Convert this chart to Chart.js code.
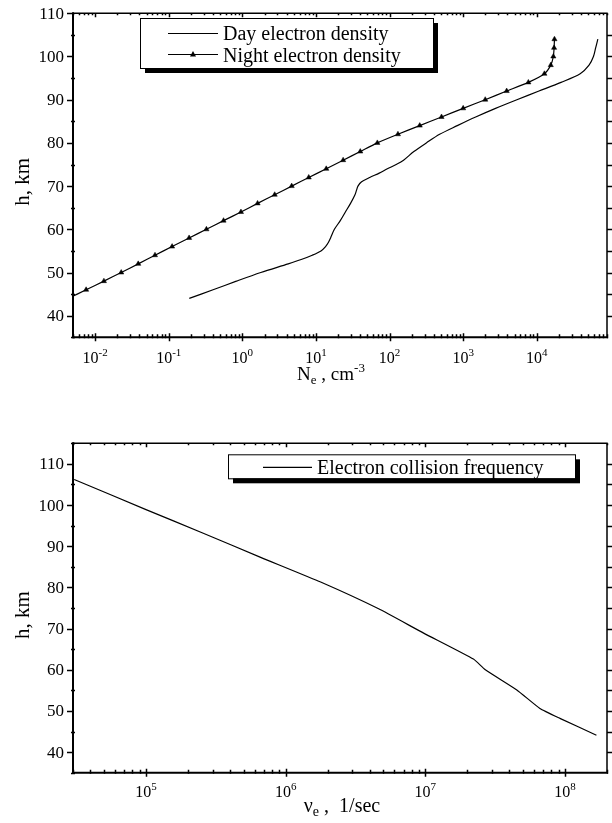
<!DOCTYPE html>
<html><head><meta charset="utf-8">
<script src="https://cdn.jsdelivr.net/npm/chart.js@4.4.1/dist/chart.umd.min.js"></script>
<style>
html,body{margin:0;padding:0;background:#fff;}
#wrap{position:relative;width:612px;height:823px;overflow:hidden;}
canvas{position:absolute;left:0;}
</style></head><body>
<div id="wrap">
<canvas id="c1" width="612" height="400" style="top:0;width:612px;height:400px"></canvas>
<canvas id="c2" width="612" height="423" style="top:400px;width:612px;height:423px"></canvas>
</div>
<script>
// ---------- DATA ----------
// Top chart: electron density profiles
const dayH  = [44,46,48,50,52,53,54,55,56,57,58,60,62,64,66,68,69,70,71,72,73,74,75,76,78,80,82,84,86,88,90,92,94,96,98,100,102,104];
const dayNe = [0.19,0.40,0.83,1.78,4.2,6.3,8.9,11.7,13.5,14.8,15.8,17.8,21.4,25.1,29.5,33.9,35.5,37.2,41.7,53.7,72.4,93.3,123,155,214,316,479,832,1479,2754,5370,10715,21380,38900,51300,58900,63100,67600];
const nightH  = [44,46,48,50,52,54,56,58,60,62,64,66,68,70,72,74,76,78,80,82,84,86,88,90,92,94,96,98,100,102,104];
const nightNe = [0.00432,0.00754,0.01315,0.0226,0.0385,0.0650,0.111,0.189,0.325,0.555,0.957,1.61,2.75,4.68,7.98,13.8,23.4,40.0,68.2,130,257,508,1000,1995,3900,7690,12700,15500,16800,17200,17400];
// Bottom chart: electron collision frequency
const nuH   = [44.1,48.2,50.6,55.1,60.0,62.6,68.9,74.8,81.3,87.3,93.4,98.9,106.2];
const nuVal = [1.68e8,9.2e7,6.62e7,4.52e7,2.69e7,2.21e7,9.73e6,4.63e6,1.78e6,6.62e5,2.47e5,1.0e5,3.06e4];
// Axis ticks / labels
const topYLabels = [40,50,60,70,80,90,100,110];
const topXExps = [-2,-1,0,1,2,3,4];
const botYLabels = [40,50,60,70,80,90,100,110];
const botXExps = [5,6,7,8];
const topLegend = ['Day electron density','Night electron density'];
const botLegend = ['Electron collision frequency'];

// ---------- HELPERS ----------
const SERIF = '"Liberation Serif","Times New Roman",serif';
function segSize(s,size){ return (s.sub||s.sup)?Math.round(size*0.68):size; }
function richWidth(ctx, segs, size){
  let w=0;
  for(const s of segs){ ctx.font=segSize(s,size)+'px '+SERIF; w+=ctx.measureText(s.t).width; }
  return w;
}
function drawRich(ctx, segs, cx, base, size){
  let x = cx - richWidth(ctx,segs,size)/2;
  ctx.textAlign='left'; ctx.textBaseline='alphabetic';
  for(const s of segs){
    ctx.font=segSize(s,size)+'px '+SERIF;
    let y=base; if(s.sup) y=base-size*0.42; if(s.sub) y=base+size*0.2;
    ctx.fillText(s.t,x,y); x+=ctx.measureText(s.t).width;
  }
}
function minorDecades(min,max){
  const out=[];
  for(let e=Math.floor(Math.log10(min)); e<=Math.ceil(Math.log10(max)); e++){
    for(let k=1;k<=9;k++){ const v=k*Math.pow(10,e); if(v>=min&&v<=max) out.push({v:v,major:k===1}); }
  }
  return out;
}

function axesPlugin(opt){
  return {
    id:'axesDraw',
    afterDraw(chart){
      const ctx=chart.ctx, a=chart.chartArea, xs=chart.scales.x, ys=chart.scales.y;
      ctx.save();
      ctx.strokeStyle='#000'; ctx.fillStyle='#000';
      // frame
      ctx.lineWidth=1.5;
      ctx.beginPath(); ctx.moveTo(a.left,a.top); ctx.lineTo(a.right,a.top); ctx.lineTo(a.right,a.bottom); ctx.stroke();
      ctx.lineWidth=2;
      ctx.beginPath(); ctx.moveTo(a.left,a.top-1); ctx.lineTo(a.left,a.bottom); ctx.lineTo(a.right+1,a.bottom); ctx.stroke();
      // y ticks
      ctx.lineWidth=1.5;
      for(let v=ys.min; v<=ys.max+0.001; v+=5){
        const py=Math.round(ys.getPixelForValue(v))+0.5;
        const major = opt.yLabels.includes(v);
        ctx.beginPath();
        if(major){ ctx.moveTo(a.left-6,py); ctx.lineTo(a.left,py); }
        else { ctx.moveTo(a.left-2,py); ctx.lineTo(a.left+2,py); }
        if(v>ys.min && v<ys.max){ ctx.moveTo(a.right,py); ctx.lineTo(a.right+5,py); }
        ctx.stroke();
      }
      // x ticks
      for(const t of minorDecades(xs.min,xs.max)){
        const px=Math.round(xs.getPixelForValue(t.v))+0.5;
        ctx.beginPath();
        if(t.major){ ctx.moveTo(px,a.bottom-4); ctx.lineTo(px,a.bottom+4); ctx.moveTo(px,a.top); ctx.lineTo(px,a.top+4); }
        else { ctx.moveTo(px,a.bottom-3); ctx.lineTo(px,a.bottom+1); ctx.moveTo(px,a.top); ctx.lineTo(px,a.top+2); }
        ctx.stroke();
      }
      // y labels
      ctx.font=opt.ySize+'px '+SERIF; ctx.textAlign='right'; ctx.textBaseline='middle';
      for(const v of opt.yLabels){ ctx.fillText(String(v), a.left-9, ys.getPixelForValue(v)+1); }
      // x labels
      for(const e of opt.xExps){
        const px=xs.getPixelForValue(Math.pow(10,e));
        drawRich(ctx,[{t:'10'},{t:String(e),sup:true}],px,opt.xBase,opt.xSize);
      }
      // axis titles
      drawRich(ctx,opt.xTitle,opt.xTitleX,opt.xTitleBase,opt.titleSize);
      ctx.save(); ctx.translate(opt.yTitleX,(a.top+a.bottom)/2+opt.yTitleDy); ctx.rotate(-Math.PI/2);
      drawRich(ctx,[{t:'h, km'}],0,0,opt.yTitleSize); ctx.restore();
      // legend
      const L=opt.legend;
      ctx.fillStyle='#000'; ctx.fillRect(L.x+5,L.y+5,L.w,L.h);
      ctx.fillStyle='#fff'; ctx.fillRect(L.x,L.y,L.w,L.h);
      ctx.lineWidth=1; ctx.strokeStyle='#000'; ctx.strokeRect(L.x+0.5,L.y+0.5,L.w,L.h);
      ctx.fillStyle='#000'; ctx.font=L.size+'px '+SERIF; ctx.textAlign='left'; ctx.textBaseline='alphabetic';
      L.items.forEach((it,i)=>{
        const ly=L.lineY[i];
        ctx.lineWidth=1.2; ctx.beginPath(); ctx.moveTo(L.lx0,ly); ctx.lineTo(L.lx1,ly); ctx.stroke();
        if(it.marker){ const mx=(L.lx0+L.lx1)/2; ctx.beginPath(); ctx.moveTo(mx,ly-3.5); ctx.lineTo(mx+3,ly+2); ctx.lineTo(mx-3,ly+2); ctx.closePath(); ctx.fill(); }
        ctx.fillText(it.text,L.tx,L.textBase[i]);
      });
      ctx.restore();
    }
  };
}

function baseScales(xmin,xmax,ymin,ymax,xh){
  return {
    x:{type:'logarithmic',min:xmin,max:xmax,ticks:{display:false},grid:{display:false},border:{display:false},afterFit(s){s.height=xh;}},
    y:{type:'linear',min:ymin,max:ymax,ticks:{display:false},grid:{display:false},border:{display:false},afterFit(s){s.width=73;}}
  };
}

// ---------- TOP CHART ----------
new Chart(document.getElementById('c1'),{
  type:'scatter',
  data:{datasets:[
    {label:topLegend[0],data:dayH.map((h,i)=>({x:dayNe[i],y:h})),showLine:true,borderColor:'#000',borderWidth:1.2,pointRadius:0,tension:0.3},
    {label:topLegend[1],data:nightH.map((h,i)=>({x:nightNe[i],y:h})),showLine:true,borderColor:'#000',backgroundColor:'#000',borderWidth:1.2,
     pointStyle:'triangle',pointRadius:nightH.map((h,i)=>i===0?0:3),pointBorderWidth:0.5,tension:0.2}
  ]},
  options:{responsive:false,animation:false,
    layout:{padding:{top:13.3,right:5,left:0,bottom:0}},
    plugins:{legend:{display:false},tooltip:{enabled:false}},
    scales:baseScales(0.005,9e4,35,110,62.7)},
  plugins:[axesPlugin({yLabels:topYLabels,xExps:topXExps,ySize:17,xSize:16,xBase:362.5,titleSize:19,yTitleSize:21,
    xTitle:[{t:'N'},{t:'e',sub:true},{t:' , cm'},{t:'-3',sup:true}],xTitleX:331,xTitleBase:380,yTitleX:28.5,yTitleDy:6.5,
    legend:{x:140,y:18,w:293,h:50,size:20,lx0:168,lx1:218,tx:223,lineY:[33.5,54.5],textBase:[40,62],
      items:[{text:topLegend[0]},{text:topLegend[1],marker:true}]}})]
});

// ---------- BOTTOM CHART ----------
new Chart(document.getElementById('c2'),{
  type:'scatter',
  data:{datasets:[
    {label:botLegend[0],data:nuH.map((h,i)=>({x:nuVal[i],y:h})),showLine:true,borderColor:'#000',borderWidth:1.2,pointRadius:0,tension:0.15}
  ]},
  options:{responsive:false,animation:false,
    layout:{padding:{top:43.3,right:5,left:0,bottom:0}},
    plugins:{legend:{display:false},tooltip:{enabled:false}},
    scales:baseScales(3e4,2e8,35,115,50.3)},
  plugins:[axesPlugin({yLabels:botYLabels,xExps:botXExps,ySize:17,xSize:16,xBase:396.5,titleSize:20,yTitleSize:21,
    xTitle:[{t:'\u03bd'},{t:'e',sub:true},{t:' ,  1/sec'}],xTitleX:342,xTitleBase:412,yTitleX:28.5,yTitleDy:7,
    legend:{x:228,y:54.3,w:347,h:24,size:20,lx0:263,lx1:312,tx:317,lineY:[67.3],textBase:[74],
      items:[{text:botLegend[0]}]}})]
});
</script>
</body></html>
